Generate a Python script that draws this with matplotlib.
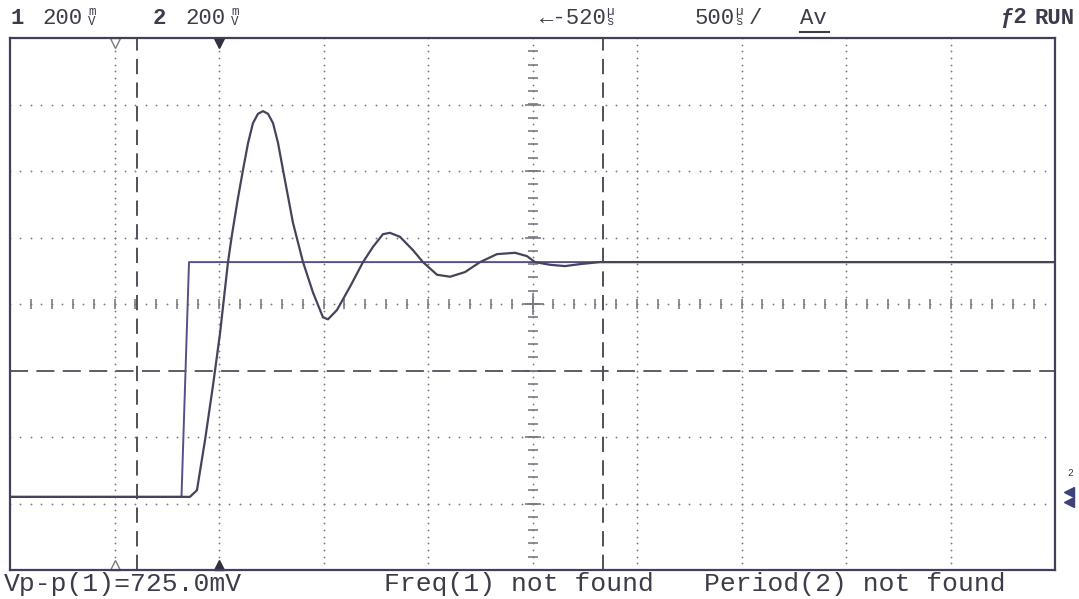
import numpy as np
import matplotlib.pyplot as plt
from matplotlib.lines import Line2D

plt.rcParams['lines.scale_dashes'] = False

W, H = 1079, 599
MONO = 'Liberation Mono'

# -------------------------------
# Screen data (units: divisions, 10 x 8 graticule)
# -------------------------------
# channel 1: input step
step_x = [0.0, 1.641, 1.713, 10.0]
step_y = [1.10, 1.10, 4.63, 4.63]

# channel 2: damped response
resp_x = [0.0, 1.722, 1.789, 1.866, 1.943, 2.010, 2.086, 2.124, 2.180, 2.230,
          2.278, 2.325, 2.373, 2.421, 2.469, 2.517, 2.565, 2.612, 2.708, 2.804,
          2.900, 2.995, 3.043, 3.129, 3.254, 3.378, 3.474, 3.569, 3.636, 3.732,
          3.856, 3.952, 4.086, 4.211, 4.354, 4.498, 4.660, 4.833, 4.947, 5.024,
          5.167, 5.311, 5.455, 5.646, 10.0]
resp_y = [1.10, 1.10, 1.20, 1.95, 2.78, 3.56, 4.63, 5.04, 5.58, 6.02,
          6.42, 6.72, 6.86, 6.90, 6.86, 6.72, 6.42, 6.02, 5.22, 4.63,
          4.17, 3.80, 3.77, 3.91, 4.26, 4.63, 4.86, 5.05, 5.07, 5.01,
          4.81, 4.63, 4.44, 4.41, 4.48, 4.63, 4.75, 4.77, 4.72, 4.63,
          4.59, 4.57, 4.60, 4.63, 4.63]

cursor_t = [1.215, 5.675]
cursor_v = [3.0]
delay_marker = 1.0
trig_marker = 2.0
gnd_level = 1.10

header = [("1", 10, True), ("200", 42, False), ("2", 153, True), ("200", 185, False),
          ("←-520", 540, False), ("500", 695, False), ("/", 749, False),
          ("Av", 800, False), ("ƒ2", 1000, True), ("RUN", 1035, True)]
units = [("m", "V", 88), ("m", "V", 231), ("µ", "s", 606), ("µ", "s", 735)]
footer = [("Vp-p(1)=725.0mV", 4), ("Freq(1) not found", 384), ("Period(2) not found", 704)]

INK = '#3c3c4a'
GRID = '#7a7a82'


def fx(px):
    return px / W


def fy(py):
    return 1 - py / H


fig = plt.figure(figsize=(W / 100, H / 100), dpi=100)
fig.patch.set_facecolor('white')
ax = fig.add_axes([fx(10), fy(570), fx(1055) - fx(10), fy(38) - fy(570)])
ax.set_xlim(0, 10)
ax.set_ylim(0, 8)
ax.set_xticks([])
ax.set_yticks([])
for s in ax.spines.values():
    s.set_color('#40405a')
    s.set_linewidth(1.6)

# -------------------------------
# Graticule
# -------------------------------
fine_x = np.arange(0, 10.001, 0.1)
fine_y = np.arange(0, 8.001, 0.1)
for gx in range(1, 10):
    if gx == 5:
        continue
    ax.plot(np.full_like(fine_y, gx), fine_y, ls='none', marker='o', ms=1.3,
            color=GRID, mew=0)
for gy in range(1, 8):
    if gy == 4 or gy in cursor_v:
        continue
    ax.plot(fine_x, np.full_like(fine_x, gy), ls='none', marker='o', ms=1.3,
            color=GRID, mew=0)

# center axes with ticks
ax.plot(fine_x, np.full_like(fine_x, 4), ls='none', marker='o', ms=1.3, color=GRID, mew=0)
ax.plot(np.full_like(fine_y, 5), fine_y, ls='none', marker='o', ms=1.3, color=GRID, mew=0)
tx = np.arange(0.2, 10, 0.2)
ax.plot(tx, np.full_like(tx, 4), ls='none', marker='|', ms=7, mew=1.2, color=GRID)
ty = np.arange(0.2, 8, 0.2)
ax.plot(np.full_like(ty, 5), ty, ls='none', marker='_', ms=7, mew=1.2, color=GRID)
ax.plot(np.full(7, 5.0), np.arange(1, 8), ls='none', marker='_', ms=11, mew=1.2, color=GRID)
ax.plot([5], [4], marker='+', ms=16, mew=1.2, color=GRID)

# cursors
for ct in cursor_t:
    ax.axvline(ct, color='#50505a', lw=1.4, dashes=(11, 6))
for cv in cursor_v:
    ax.axhline(cv, color='#50505a', lw=1.3, dashes=(13, 6))

# time reference markers
ax.plot([delay_marker], [7.93], marker='v', ms=7, mfc='white', mec=GRID, mew=1, clip_on=False)
ax.plot([trig_marker], [7.93], marker='v', ms=7, color='#303040', clip_on=False)
ax.plot([delay_marker], [0.07], marker='^', ms=7, mfc='white', mec=GRID, mew=1, clip_on=False)
ax.plot([trig_marker], [0.07], marker='^', ms=7, color='#303040', clip_on=False)

# -------------------------------
# Traces
# -------------------------------
ax.plot(step_x, step_y, color='#5a4e86', lw=1.4)
ax.plot(resp_x, resp_y, color='#44445a', lw=1.6)

# ground markers at right edge
ax.plot([10.13], [gnd_level + 0.08], marker='<', ms=7, color='#40407a', clip_on=False)
ax.plot([10.13], [gnd_level - 0.08], marker='<', ms=7, color='#40407a', clip_on=False)
ax.text(10.12, gnd_level + 0.36, "2", fontsize=7, color=INK, family=MONO,
        ha='left', va='center', clip_on=False)

# -------------------------------
# Header / footer texts
# -------------------------------
for txt, px, bold in header:
    fig.text(fx(px), fy(18), txt, fontsize=16, family=MONO, color=INK,
             weight='bold' if bold else 'normal', ha='left', va='center')
for top, bot, px in units:
    fig.text(fx(px), fy(12), top, fontsize=9, family=MONO, color=INK, ha='left', va='center')
    fig.text(fx(px), fy(22), bot, fontsize=9, family=MONO, color=INK, ha='left', va='center')
fig.add_artist(Line2D([fx(800), fx(829)], [fy(32), fy(32)], color=INK, lw=1.5))

for txt, px in footer:
    fig.text(fx(px), fy(584), txt, fontsize=19, family=MONO, color=INK,
             ha='left', va='center')

fig.savefig('out.png', dpi=100, facecolor='white')
